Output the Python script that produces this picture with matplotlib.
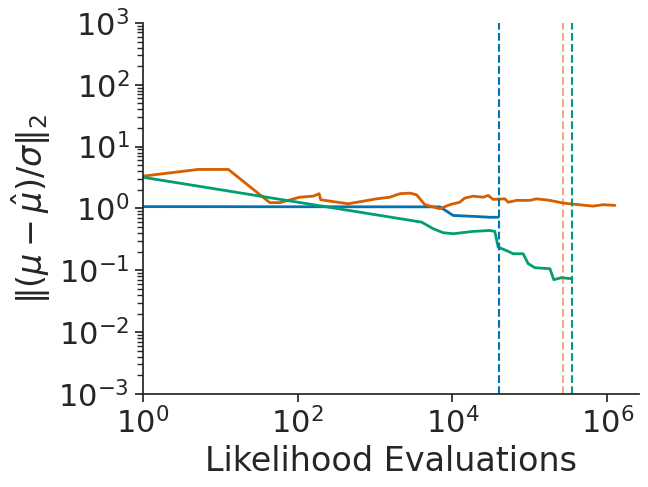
import matplotlib
matplotlib.use("Agg")
import matplotlib.pyplot as plt
import seaborn as sns
import numpy as np

# valeurs
blue_x = [1, 6900, 1.02e4, 2.05e4, 3.04e4, 3.89e4]
blue_y = [1.07, 1.06, 0.77, 0.74, 0.72, 0.72]

green_x = [1, 4000, 5640, 7590, 1.02e4, 1.85e4, 3.04e4, 3.52e4, 3.89e4, 5.5e4,
           6.07e4, 8.17e4, 9.48e4, 1.16e5, 1.81e5, 2.03e5, 2.56e5, 3.44e5]
green_y = [3.2, 0.6, 0.47, 0.405, 0.39, 0.425, 0.44, 0.425, 0.237, 0.197,
           0.185, 0.185, 0.128, 0.110, 0.106, 0.0705, 0.076, 0.073]

orange_x = [1, 5.2, 12.8, 44, 59, 107, 160, 190, 199, 451, 1050, 1556, 2096, 2820,
            3440, 4400, 6870, 9250, 1.24e4, 1.44e4, 1.85e4, 2.49e4, 2.89e4, 3.35e4,
            4.74e4, 5.23e4, 6.72e4, 9.97e4, 1.22e5, 1.81e5, 2.68e5, 3.99e5, 6.53e5,
            8.8e5, 1.25e6]
orange_y = [3.32, 4.27, 4.27, 1.24, 1.24, 1.52, 1.58, 1.73, 1.38, 1.19, 1.43, 1.52,
            1.73, 1.77, 1.66, 1.15, 0.99, 1.15, 1.26, 1.47, 1.58, 1.52, 1.62, 1.40,
            1.43, 1.26, 1.35, 1.35, 1.43, 1.35, 1.22, 1.16, 1.09, 1.15, 1.12]

# fin de chaque run (lignes pointillees)
blue_end = 3.94e4
orange_end = 2.71e5
green_end = 3.44e5

sns.set_theme(style="ticks", font_scale=2)
pal = sns.color_palette("colorblind")
c_blue, c_green, c_orange = pal[0], pal[2], pal[3]

fig, ax = plt.subplots(figsize=(6.48, 4.87), dpi=100)
fig.subplots_adjust(left=0.220, right=0.986, top=0.953, bottom=0.191)

ax.plot(blue_x, blue_y, color=c_blue, lw=2)
ax.plot(orange_x, orange_y, color=c_orange, lw=2)
ax.plot(green_x, green_y, color=c_green, lw=2)

ax.axvline(blue_end, color=c_blue, ls="--", lw=1.5)
ax.axvline(orange_end, color=c_orange, ls="--", lw=1.5, alpha=0.5)
ax.axvline(green_end, color=c_green, ls="--", lw=1.5)

ax.set_xscale("log")
ax.set_yscale("log")
ax.set_xlim(1, 2.55e6)
ax.set_ylim(1e-3, 1e3)

ax.set_xlabel("Likelihood Evaluations")
ax.set_ylabel(r"$\|(\mu - \hat{\mu})/\sigma\|_2$")
sns.despine(ax=ax)

fig.savefig("out.png", dpi=100)
